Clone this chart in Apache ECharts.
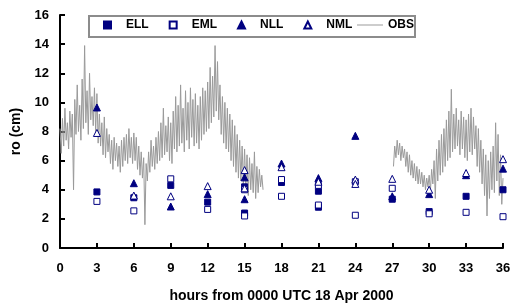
<!DOCTYPE html>
<html>
<head>
<meta charset="utf-8">
<script src="https://cdn.jsdelivr.net/npm/echarts@6.0.0/dist/echarts.min.js"></script>
<style>
html, body { margin: 0; padding: 0; background: #fff; }
#chart { width: 512px; height: 305px; }
</style>
</head>
<body>
<div id="chart"></div>
<script>
// model estimates of ro (cm): [hour, value]
const ell = [[3, 3.85], [6, 3.45], [9, 4.3], [12, 3.15], [15, 4.2], [15, 2.4], [18, 4.5],
  [21, 3.9], [21, 2.8], [27, 3.35], [30, 2.5], [33, 3.55], [36, 4.0]];
const eml = [[3, 3.2], [6, 2.55], [9, 4.75], [12, 2.65], [15, 4.0], [15, 2.2], [18, 4.7], [18, 3.55],
  [21, 4.3], [21, 2.95], [24, 4.55], [24, 2.25], [27, 4.1], [30, 2.35], [33, 2.45], [36, 2.15]];
const nll = [[3, 9.65], [6, 4.45], [9, 2.85], [12, 3.7], [15, 4.85], [15, 3.35], [18, 5.8],
  [21, 4.8], [24, 7.7], [27, 3.55], [30, 3.7], [33, 5.0], [36, 5.45]];
const nml = [[3, 7.9], [6, 3.6], [9, 3.55], [12, 4.25], [15, 5.35], [15, 4.1], [18, 5.55],
  [21, 4.55], [24, 4.7], [24, 4.4], [27, 4.75], [30, 4.0], [33, 5.15], [36, 6.1]];

// observations, sampled every 0.1 h
const obsStep = 0.1;
const obsStartA = 0;
const obsA = [
  8.2, 6.5, 8.9, 7.0, 9.6, 7.4, 8.6, 6.8, 9.4, 7.6,
  9.2, 4.0, 10.2, 7.8, 11.2, 8.0, 9.8, 7.4, 11.6, 8.2,
  13.9, 8.6, 10.8, 7.8, 12.0, 8.8, 10.4, 8.4, 11.0, 8.0,
  10.6, 7.2, 9.2, 7.0, 8.6, 6.4, 9.0, 6.2, 8.2, 6.6,
  7.8, 5.8, 7.4, 5.4, 7.6, 6.0, 7.2, 5.6, 7.0, 5.2,
  7.4, 5.6, 7.6, 6.0, 7.8, 5.8, 8.2, 6.2, 7.6, 5.8,
  7.9, 6.0, 7.6, 5.4, 7.0, 5.0, 6.6, 4.8, 6.2, 1.6,
  5.8, 4.6, 6.6, 5.2, 7.4, 5.6, 7.0, 5.4, 7.6, 5.8,
  8.0, 6.0, 8.6, 6.2, 9.6, 6.4, 8.4, 6.6, 9.0, 6.0,
  8.6, 5.8, 9.4, 6.8, 10.4, 6.6, 9.8, 7.0, 11.2, 7.2,
  9.6, 6.6, 10.8, 7.4, 10.0, 6.8, 11.0, 7.6, 10.2, 7.0,
  10.6, 7.2, 9.8, 6.8, 10.4, 7.4, 11.0, 7.8, 10.8, 8.0,
  11.4, 8.2, 12.4, 8.6, 11.8, 9.0, 13.9, 9.4, 12.8, 8.8,
  11.2, 7.8, 10.4, 7.2, 10.0, 6.8, 9.6, 6.6, 9.2, 6.0,
  8.8, 5.6, 8.4, 5.2, 7.8, 4.8, 7.4, 4.6, 7.0, 4.4,
  6.8, 4.2, 6.4, 3.6, 6.2, 4.0, 5.8, 3.8, 6.6, 3.4,
  5.6, 3.8, 5.4, 4.2, 5.0, 4.0
];
const obsStartB = 27.1;
const obsB = [
  5.6, 7.0, 6.2, 7.4, 6.4, 7.2, 6.0, 7.0, 6.2,
  6.8, 5.6, 6.6, 5.2, 6.4, 5.0, 6.0, 4.8, 5.8, 4.6,
  5.6, 4.4, 5.4, 4.4, 5.2, 4.2, 5.0, 4.0, 4.8, 4.2,
  5.0, 3.9, 5.4, 4.4, 6.0, 3.4, 6.8, 4.6, 7.4, 5.0,
  7.8, 5.2, 8.2, 5.6, 8.8, 6.0, 9.4, 6.2, 10.9, 6.6,
  9.2, 6.8, 9.6, 7.0, 8.8, 6.4, 9.4, 6.8, 9.0, 6.2,
  8.8, 6.0, 9.2, 6.6, 9.6, 6.4, 9.0, 6.8, 8.4, 5.6,
  8.2, 5.2, 7.4, 4.4, 6.8, 3.6, 6.4, 2.2, 6.0, 3.4,
  6.6, 4.0, 7.0, 3.8, 8.6, 4.6, 7.8, 3.6, 6.4, 3.0,
  4.8
];

const font = 'Arial, "Liberation Sans", sans-serif';
const navy = '#000080';
const obsColor = '#9a9a9a';

let obs = [];
obsA.forEach((v, i) => obs.push([+(obsStartA + i * obsStep).toFixed(2), v]));
obs.push([17, '-']);
obsB.forEach((v, i) => obs.push([+(obsStartB + i * obsStep).toFixed(2), v]));

let myChart = echarts.init(document.getElementById('chart'));

function marker(name, data, symbol, size, filled) {
  return {
    name: name,
    type: 'scatter',
    symbol: symbol,
    symbolSize: size,
    itemStyle: {
      color: filled ? navy : '#fff',
      borderColor: navy,
      borderWidth: 1,
      opacity: 1
    },
    data: data,
    z: 3
  };
}

let legendText = { fontFamily: font, fontWeight: 'bold', fontSize: 12, color: '#000' };

let option = {
  animation: false,
  backgroundColor: '#fff',
  grid: { left: 60, right: 9, top: 15, bottom: 57, containLabel: false, outerBoundsMode: 'none' },
  // legend frame
  graphic: [{
    type: 'rect',
    shape: { x: 89, y: 16, width: 326, height: 21 },
    style: { fill: '#fff', stroke: '#8c8c8c', lineWidth: 2 },
    z: 10
  }],
  legend: [
    {
      left: 103,
      top: 19,
      padding: 0,
      selectedMode: false,
      itemWidth: 7,
      itemHeight: 7,
      itemGap: 20,
      textStyle: Object.assign({ padding: [0, 0, 0, 10] }, legendText),
      data: ['ELL', 'EML', 'NLL', 'NML'],
      z: 11
    },
    {
      left: 357,
      top: 19,
      padding: 0,
      selectedMode: false,
      itemWidth: 26,
      itemHeight: 1,
      textStyle: legendText,
      data: [{ name: 'OBS', icon: 'rect' }],
      z: 11
    }
  ],
  xAxis: {
    type: 'value',
    min: 0,
    max: 36,
    interval: 3,
    name: 'hours from 0000 UTC 18 Apr 2000',
    nameLocation: 'middle',
    nameGap: 41,
    nameTextStyle: { fontFamily: font, fontWeight: 'bold', fontSize: 14, color: '#000' },
    axisLine: { lineStyle: { color: '#000', width: 2 } },
    axisTick: { inside: true, length: 5, lineStyle: { color: '#000', width: 2 } },
    axisLabel: { margin: 14, fontFamily: font, fontWeight: 'bold', fontSize: 13, color: '#000' },
    splitLine: { show: false }
  },
  yAxis: {
    type: 'value',
    min: 0,
    max: 16,
    interval: 2,
    name: 'ro (cm)',
    nameLocation: 'middle',
    nameGap: 35,
    nameRotate: 90,
    nameTextStyle: { fontFamily: font, fontWeight: 'bold', fontSize: 14, color: '#000' },
    axisLine: { show: true, lineStyle: { color: '#000', width: 2 } },
    axisTick: { show: true, inside: true, length: 5, lineStyle: { color: '#000', width: 2 } },
    axisLabel: { margin: 11, fontFamily: font, fontWeight: 'bold', fontSize: 13, color: '#000' },
    splitLine: { show: false }
  },
  series: [
    {
      name: 'OBS',
      type: 'line',
      data: obs,
      showSymbol: false,
      symbol: 'none',
      connectNulls: false,
      lineStyle: { color: obsColor, width: 1 },
      itemStyle: { color: obsColor },
      z: 2
    },
    marker('ELL', ell, 'rect', 6, true),
    marker('EML', eml, 'rect', 6, false),
    marker('NLL', nll, 'triangle', 7, true),
    marker('NML', nml, 'triangle', 7, false)
  ]
};

myChart.setOption(option);
</script>
</body>
</html>
